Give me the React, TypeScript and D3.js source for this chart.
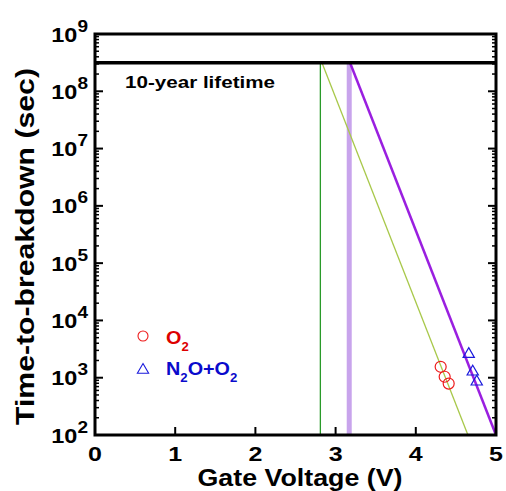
import React from "react";
import * as d3 from "d3";

const xTicks = [0, 1, 2, 3, 4, 5];
const yExps = [2, 3, 4, 5, 6, 7, 8, 9];

const o2V = [4.31, 4.36, 4.41];
const o2T = [1550, 1040, 790];
const n2oV = [4.66, 4.71, 4.76];
const n2oT = [2580, 1270, 850];

const lifetime = 3.15e8;
const greenVert = 2.81;
const lavenderVert = 3.17;
const oliveLine = [
  [2.83, 3.15e8],
  [4.65, 100],
];
const purpleLine = [
  [3.18, 3.15e8],
  [5.0, 100],
];

const W = 506;
const H = 491;
const m = { left: 95, right: 496, top: 34, bottom: 435 };
const FONT = "'Liberation Sans', Arial, Helvetica, sans-serif";

export default function App() {
  const x = d3.scaleLinear().domain([0, 5]).range([m.left, m.right]);
  const y = d3.scaleLog().domain([1e2, 1e9]).range([m.bottom, m.top]);

  const minors: number[] = [];
  for (let e = 2; e < 9; e++) for (let k = 2; k <= 9; k++) minors.push(k * Math.pow(10, e));

  const line = d3
    .line<number[]>()
    .x((d) => x(d[0]))
    .y((d) => y(d[1]));

  const tri = d3.symbol().type(d3.symbolTriangle).size(55)();

  return (
    <svg
      width={W}
      height={H}
      style={{ position: "absolute", left: 0, top: 0, background: "#fff" }}
      fontFamily={FONT}
      fontWeight="bold"
    >
      {/* reference lines */}
      <line x1={x(greenVert)} x2={x(greenVert)} y1={y(lifetime)} y2={y(100)} stroke="#2a9a2a" strokeWidth={1.3} />
      <line x1={x(lavenderVert)} x2={x(lavenderVert)} y1={y(lifetime)} y2={y(100)} stroke="#c8a4ec" strokeWidth={5} />
      <path d={line(oliveLine) || ""} stroke="#a8c84a" strokeWidth={1.3} fill="none" />
      <path d={line(purpleLine) || ""} stroke="#9a1fe0" strokeWidth={2.5} fill="none" />

      {/* 10-year line */}
      <line x1={m.left} x2={m.right} y1={y(lifetime)} y2={y(lifetime)} stroke="#000" strokeWidth={3.5} />
      <text x={125} y={88} fontSize={17} textLength={150} lengthAdjust="spacingAndGlyphs">
        10-year lifetime
      </text>

      {/* data */}
      {o2V.map((v, i) => (
        <circle key={"o" + i} cx={x(v)} cy={y(o2T[i])} r={5.5} fill="none" stroke="#ee1c1c" strokeWidth={1.2} />
      ))}
      {n2oV.map((v, i) => (
        <path key={"n" + i} d={tri || ""} transform={`translate(${x(v)},${y(n2oT[i])})`} fill="none" stroke="#1a1adc" strokeWidth={1.2} />
      ))}

      {/* legend */}
      <circle cx={143} cy={336} r={5} fill="none" stroke="#ee1c1c" strokeWidth={1.1} />
      <text transform="translate(166,344) scale(1.1,1)" fontSize={18} fill="#dd0000">
        O<tspan fontSize={12} dy={7}>2</tspan>
      </text>
      <path d={tri || ""} transform="translate(143,370)" fill="none" stroke="#1a1adc" strokeWidth={1.1} />
      <text transform="translate(166,375) scale(1.1,1)" fontSize={18} fill="#0a0acc">
        N<tspan fontSize={12} dy={7}>2</tspan>
        <tspan dy={-7}>O+O</tspan>
        <tspan fontSize={12} dy={7}>2</tspan>
      </text>

      {/* y ticks */}
      {minors.map((v, i) => (
        <g key={"mi" + i}>
          <line x1={m.left} x2={m.left + 4} y1={y(v)} y2={y(v)} stroke="#000" strokeWidth={1.5} />
          <line x1={m.right} x2={m.right - 4} y1={y(v)} y2={y(v)} stroke="#000" strokeWidth={1.5} />
        </g>
      ))}
      {yExps.map((e) => {
        const yy = y(Math.pow(10, e));
        return (
          <g key={"ye" + e}>
            <line x1={m.left} x2={m.left + 8} y1={yy} y2={yy} stroke="#000" strokeWidth={2} />
            <line x1={m.right} x2={m.right - 8} y1={yy} y2={yy} stroke="#000" strokeWidth={2} />
            <text transform={`translate(88,${yy + 7.5}) scale(1.12,1)`} fontSize={21} textAnchor="end" fill="#000">
              10<tspan fontSize={17} dy={-10}>{e}</tspan>
            </text>
          </g>
        );
      })}

      {/* x ticks */}
      {xTicks.map((t) => (
        <g key={"xt" + t}>
          <line x1={x(t)} x2={x(t)} y1={m.bottom} y2={m.bottom - 8} stroke="#000" strokeWidth={2} />
          <text transform={`translate(${x(t)},461) scale(1.25,1)`} fontSize={20} textAnchor="middle" fill="#000">
            {t}
          </text>
        </g>
      ))}

      {/* frame */}
      <rect x={m.left} y={m.top} width={m.right - m.left} height={m.bottom - m.top} fill="none" stroke="#000" strokeWidth={3} />

      {/* titles */}
      <text x={300} y={485.5} fontSize={23} textAnchor="middle" fill="#000" textLength={205} lengthAdjust="spacingAndGlyphs">
        Gate Voltage (V)
      </text>
      <text
        transform={`translate(34,246.5) rotate(-90)`}
        fontSize={25}
        textAnchor="middle"
        fill="#000"
        textLength={357}
        lengthAdjust="spacingAndGlyphs"
      >
        Time-to-breakdown (sec)
      </text>
    </svg>
  );
}
